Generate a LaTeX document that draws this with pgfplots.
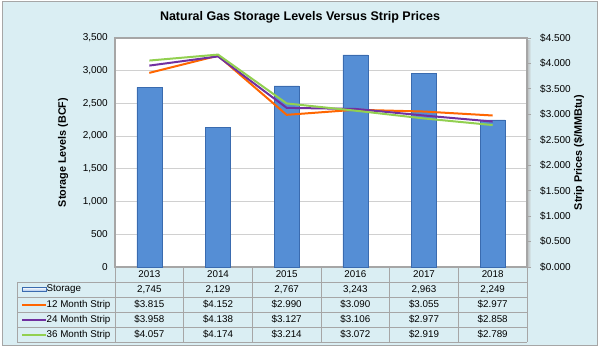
\documentclass[border=0pt]{standalone}
\usepackage{pgfplots}
\pgfplotsset{compat=1.18}
\usepackage{fontspec}
\setmainfont{Liberation Sans}
\definecolor{bg}{HTML}{DAEEF3}
\definecolor{barblue}{HTML}{558ED5}
\definecolor{bardark}{HTML}{3A6BAF}
\definecolor{c12}{HTML}{FF6600}
\definecolor{c24}{HTML}{7030A0}
\definecolor{c36}{HTML}{92D050}
\definecolor{gridc}{HTML}{D0D0D0}
\definecolor{framec}{HTML}{A6A6A6}
\newcommand{\tickfont}{\fontsize{10bp}{12bp}\selectfont}
\newcommand{\tabfont}{\fontsize{9.8bp}{12bp}\selectfont}
\begin{document}
\begin{tikzpicture}
\begin{scope}[x=1bp,y=1bp]
\fill[white] (0,0) rectangle (600,350);
\fill[bg] (2,5) rectangle (597,348);
\draw[framec, line width=1bp] (2,5) rectangle (597,348);
\node[font=\bfseries\fontsize{12.5bp}{14bp}\selectfont] at (300,333) {Natural Gas Storage Levels Versus Strip Prices};
% 3D shadow of the plot area
\shade[left color=gray!55, right color=bg] (527,83) rectangle (531,310);
\end{scope}

\begin{axis}[
  at={(115bp,83bp)}, anchor=south west, scale only axis,
  width=412bp, height=229bp,
  xmin=-0.5, xmax=5.5, ymin=0, ymax=3500,
  xtick=\empty,
  ytick={0,500,...,3500},
  ymajorgrids, grid style={gridc, line width=0.8bp},
  major tick length=0pt,
  /pgf/number format/assume math mode=true,
  /pgf/number format/1000 sep={,},
  yticklabel style={font=\tickfont, inner sep=0pt, xshift=-7bp},
  axis background/.style={fill=white},
  axis line style={draw=framec, line width=1.2bp},
  ybar, bar width=25bp,
]
\addplot[fill=barblue, draw=bardark, line width=0.6bp] coordinates {(0,2745) (1,2129) (2,2767) (3,3243) (4,2963) (5,2249)};
\end{axis}

\begin{axis}[
  at={(115bp,83bp)}, anchor=south west, scale only axis,
  width=412bp, height=229bp,
  xmin=-0.5, xmax=5.5, ymin=0, ymax=4.5,
  axis x line=none, axis y line*=right,
  ytick={0,0.5,1,1.5,2,2.5,3,3.5,4,4.5},
  /pgf/number format/assume math mode=true,
  yticklabel={\$\pgfmathprintnumber[fixed,fixed zerofill,precision=3]{\tick}},
  yticklabel style={font=\tickfont, anchor=west, inner sep=0pt, xshift=9bp},
  tick align=outside, major tick length=4bp,
  tick style={draw=framec, line width=0.8bp},
  axis line style={draw=framec, line width=1.2bp},
]
\addplot[c12, line width=2bp] coordinates {(0,3.815) (1,4.152) (2,2.990) (3,3.090) (4,3.055) (5,2.977)};
\addplot[c24, line width=2bp] coordinates {(0,3.958) (1,4.138) (2,3.127) (3,3.106) (4,2.977) (5,2.858)};
\addplot[c36, line width=2bp] coordinates {(0,4.057) (1,4.174) (2,3.214) (3,3.072) (4,2.919) (5,2.789)};
\end{axis}

\begin{scope}[x=1bp,y=1bp]
\node[rotate=90, font=\bfseries\fontsize{10.8bp}{12bp}\selectfont] at (63,197.5) {Storage Levels (BCF)};
\node[rotate=90, font=\bfseries\fontsize{10.8bp}{12bp}\selectfont] at (579,197.5) {Strip Prices (\$/MMBtu)};
% table grid
\draw[framec, line width=0.7bp] (17,68) -- (527,68);
\draw[framec, line width=0.7bp] (17,53) -- (527,53);
\draw[framec, line width=0.7bp] (17,38) -- (527,38);
\draw[framec, line width=0.7bp] (17,23) -- (527,23);
\draw[framec, line width=0.7bp] (17,8) -- (527,8);
\draw[framec, line width=0.7bp] (17,68) -- (17,8);
\foreach \k in {0,...,6} {
  \draw[framec, line width=0.7bp] ({115+68.667*\k},83) -- ({115+68.667*\k},8);
}
% years
\foreach \t [count=\i from 0] in {2013,2014,2015,2016,2017,2018} {
  \node[font=\tabfont] at ({115+68.667*(\i+0.5)},75.5) {\t};
}
\foreach \t [count=\i from 0] in {{2,745},{2,129},{2,767},{3,243},{2,963},{2,249}} {
  \node[font=\tabfont] at ({115+68.667*(\i+0.5)},60.5) {\t};
}
\foreach \t [count=\i from 0] in {3.815,4.152,2.990,3.090,3.055,2.977} {
  \node[font=\tabfont] at ({115+68.667*(\i+0.5)},45.5) {\$\t};
}
\foreach \t [count=\i from 0] in {3.958,4.138,3.127,3.106,2.977,2.858} {
  \node[font=\tabfont] at ({115+68.667*(\i+0.5)},30.5) {\$\t};
}
\foreach \t [count=\i from 0] in {4.057,4.174,3.214,3.072,2.919,2.789} {
  \node[font=\tabfont] at ({115+68.667*(\i+0.5)},15.5) {\$\t};
}
% row labels and keys
\shade[top color=white, bottom color=barblue!60, draw=bardark, line width=0.6bp] (22,58.3) rectangle (46,62.7);
\draw[c12, line width=2bp] (22,45.5) -- (46,45.5);
\draw[c24, line width=2bp] (22,30.5) -- (46,30.5);
\draw[c36, line width=2bp] (22,15.5) -- (46,15.5);
\node[font=\tabfont, anchor=west, inner sep=0pt] at (46.5,60.5) {Storage};
\node[font=\tabfont, anchor=west, inner sep=0pt] at (46.5,45.5) {12 Month Strip};
\node[font=\tabfont, anchor=west, inner sep=0pt] at (46.5,30.5) {24 Month Strip};
\node[font=\tabfont, anchor=west, inner sep=0pt] at (46.5,15.5) {36 Month Strip};
\end{scope}
\end{tikzpicture}
\end{document}
